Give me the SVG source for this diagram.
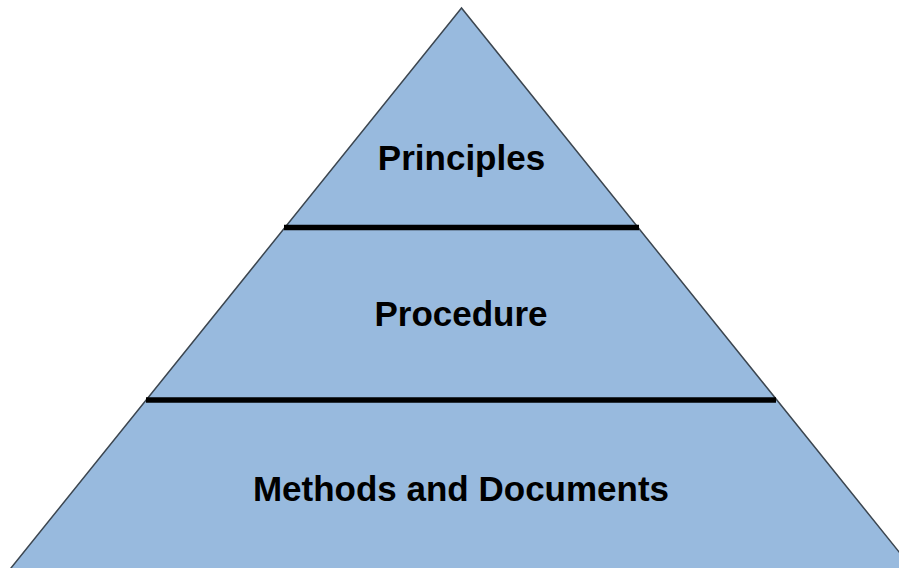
<svg xmlns="http://www.w3.org/2000/svg" width="899" height="568" viewBox="0 0 899 568">
<style>
.lbl{font-family:"Liberation Sans",Arial,sans-serif;font-weight:bold;font-size:35px;fill:#000;text-anchor:middle}
.sep{stroke:#000;stroke-width:5.5}
</style>
<rect width="899" height="568" fill="#fff"/>
<g id="pyramid">
<polygon points="461.5,8 9.4,570 913.6,570" fill="#98BADE" stroke="#3c4650" stroke-width="1.5"/>
</g>
<g id="connectors">
<line class="sep" x1="284" y1="227.5" x2="639" y2="227.5"/>
<line class="sep" x1="146" y1="400" x2="776" y2="400"/>
</g>
<g id="principles"><text class="lbl" x="461.5" y="169.5">Principles</text></g>
<g id="procedure"><text class="lbl" x="461" y="325.5">Procedure</text></g>
<g id="methods"><text class="lbl" x="461" y="500.5">Methods and Documents</text></g>
</svg>
